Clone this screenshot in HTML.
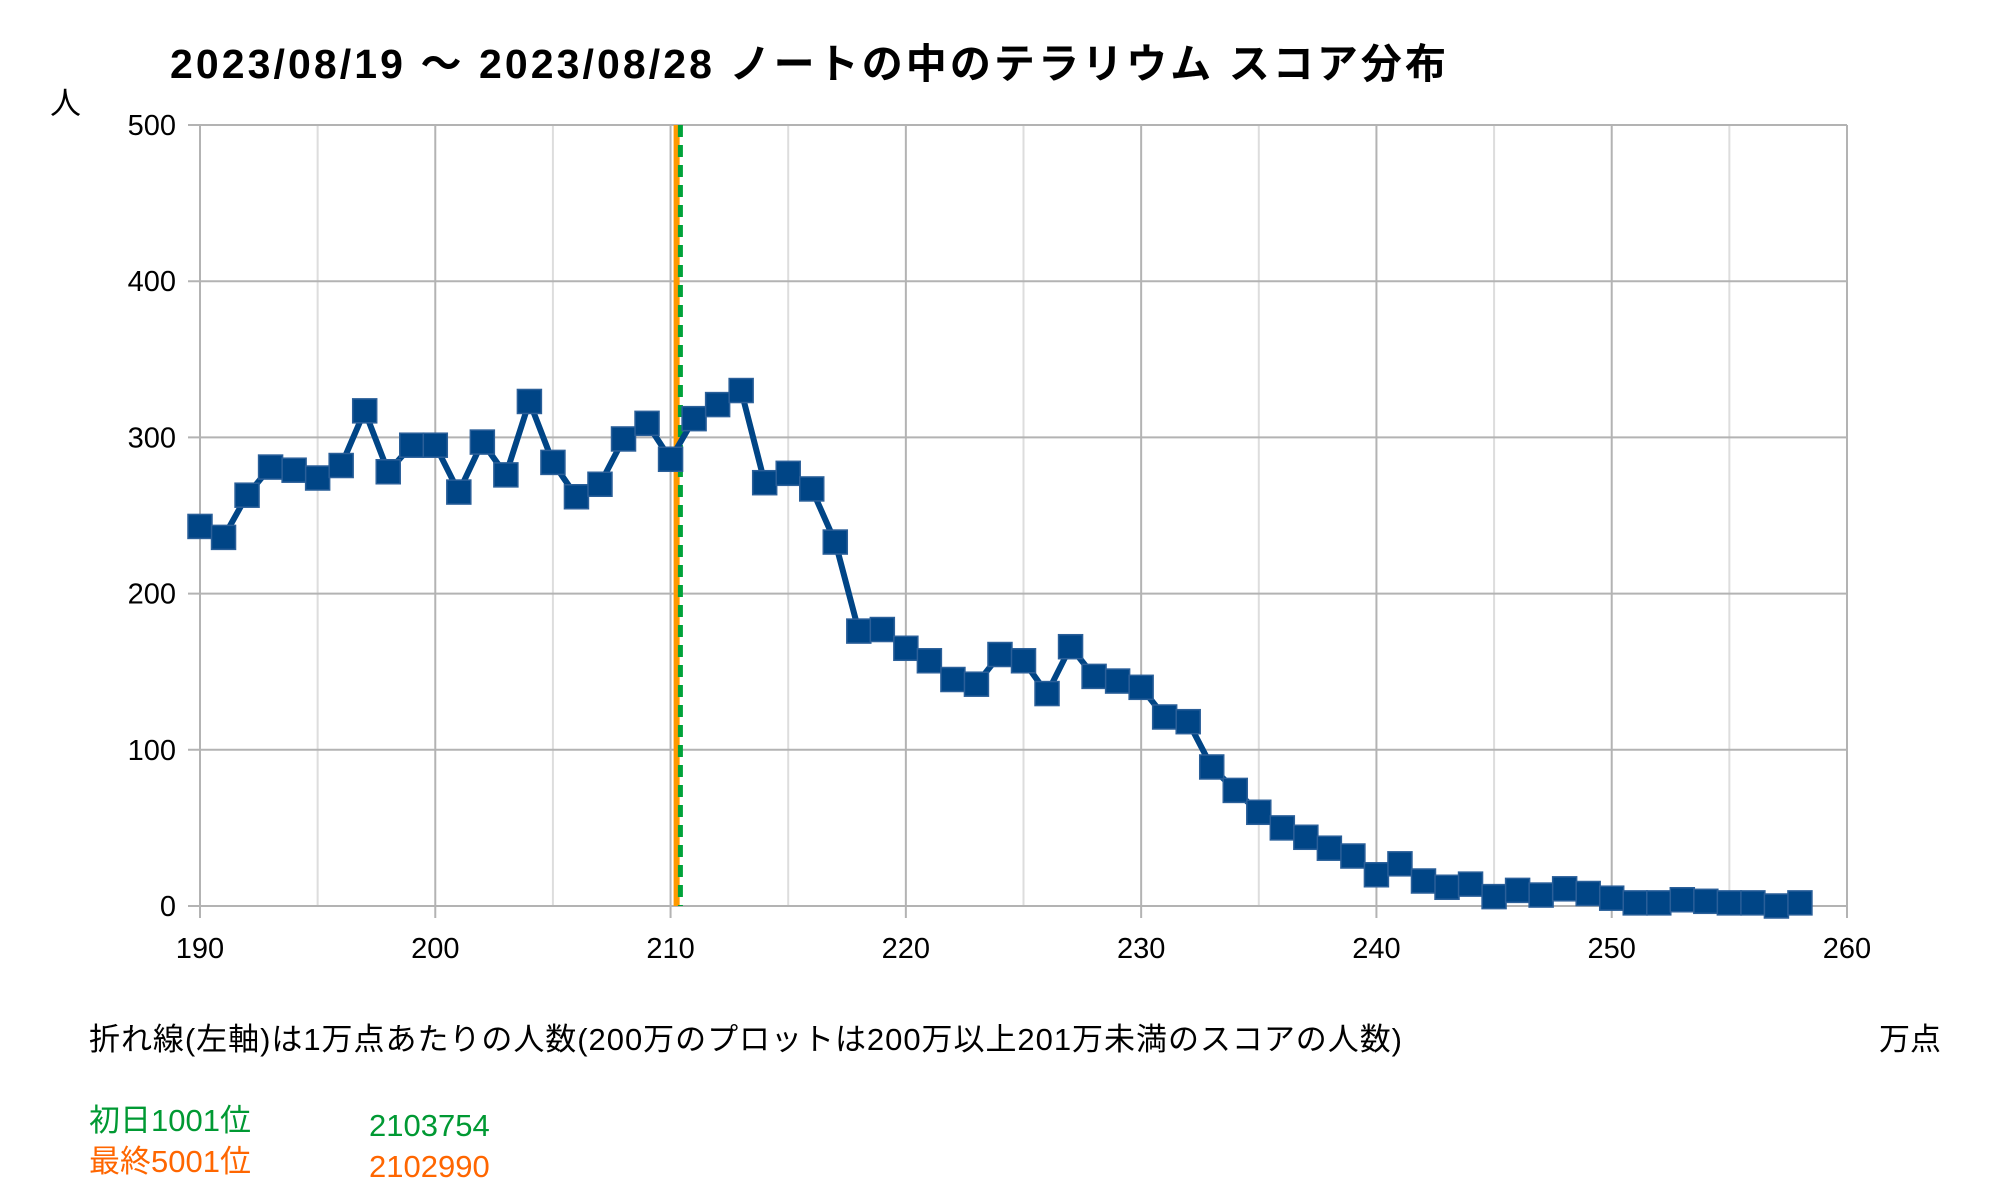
<!DOCTYPE html>
<html><head><meta charset="utf-8">
<style>
html,body{margin:0;padding:0;background:#fff;}
body{width:2000px;height:1200px;overflow:hidden;position:relative;font-family:"Liberation Sans","Noto Sans CJK JP",sans-serif;}
svg{position:absolute;left:0;top:0;}
</style></head>
<body>
<svg id="chart" width="2000" height="1200"></svg>
<script>
const categories=[190,191,192,193,194,195,196,197,198,199,200,201,202,203,204,205,206,207,208,209,210,211,212,213,214,215,216,217,218,219,220,221,222,223,224,225,226,227,228,229,230,231,232,233,234,235,236,237,238,239,240,241,242,243,244,245,246,247,248,249,250,251,252,253,254,255,256,257,258];
const counts=[243,236,263,281,279,274,282,317,278,295,295,265,297,276,323,284,262,270,299,309,286,312,321,330,271,277,267,233,176,177,165,157,145,142,161,157,136,166,147,144,140,121,118,89,74,60,50,44,37,32,20,27,16,12,14,6,10,7,11,8,5,2,2,4,3,2,2,0,2];
const xTicks=[190,200,210,220,230,240,250,260];
const yTicks=[0,100,200,300,400,500];
const firstDayLine=210.3754;
const finalLine=210.2990;

const NS="http://www.w3.org/2000/svg";
const svg=document.getElementById('chart');
const L=200,R=1847,T=125,B=906;
const X=v=>L+(v-190)/(260-190)*(R-L);
const Y=v=>B-v/500*(B-T);
function mk(tag,attrs,parent){const e=document.createElementNS(NS,tag);for(const k in attrs)e.setAttribute(k,attrs[k]);(parent||svg).appendChild(e);return e;}

for(let v=195;v<260;v+=10){
  const g=mk('line',{x1:X(v),x2:X(v),y1:T,y2:B,stroke:'#dddddd','stroke-width':2});
  
  
}
xTicks.forEach(v=>{
  const g=mk('line',{x1:X(v),x2:X(v),y1:T,y2:B+12,stroke:'#b3b3b3','stroke-width':2});
  
  
  const t=mk('text',{x:X(v),y:958,'text-anchor':'middle','font-size':29,fill:'#000'});
  t.textContent=v;
  
  
});
yTicks.forEach(v=>{
  const g=mk('line',{x1:L-12,x2:R,y1:Y(v),y2:Y(v),stroke:'#b3b3b3','stroke-width':2});
  
  
  const t=mk('text',{x:176,y:Y(v)+10,'text-anchor':'end','font-size':29,fill:'#000'});
  t.textContent=v;
  
  
});

const ol=mk('line',{x1:X(finalLine)-1,x2:X(finalLine)-1,y1:T,y2:B,stroke:'#ff9900','stroke-width':6});


const gl=mk('line',{x1:X(firstDayLine)+1,x2:X(firstDayLine)+1,y1:T,y2:B,stroke:'#00a33a','stroke-width':5,'stroke-dasharray':'12,8'});



const pts=categories.map((c,i)=>X(c)+','+Y(counts[i])).join(' ');
const pl=mk('polyline',{points:pts,fill:'none',stroke:'#004586','stroke-width':6,'stroke-linejoin':'round'});


categories.forEach((c,i)=>{
  const s=24;
  const r=mk('rect',{x:X(c)-s/2,y:Y(counts[i])-s/2,width:s,height:s,fill:'#004586',stroke:'#2a5f99','stroke-width':1.5});
  
  
});

function txt(x,y,s,size,fill,weight,name,anchor){
  const t=mk('text',{x:x,y:y,'font-size':size,fill:fill,'font-weight':weight||'normal','text-anchor':anchor||'start'});
  t.textContent=s;
  
  
  return t;
}
const title=txt(170,78,'2023/08/19 〜 2023/08/28 ノートの中のテラリウム スコア分布',41,'#000','bold','chart-title');
title.setAttribute('textLength','1276');
txt(50,114,'人',31,'#000','normal','y-axis-title');
const fn=txt(89,1050,'折れ線(左軸)は1万点あたりの人数(200万のプロットは200万以上201万未満のスコアの人数)',31,'#000','normal','footnote');
fn.setAttribute('textLength','1313');
txt(1879,1050,'万点',31,'#000','normal','x-axis-title');
txt(89,1131,'初日1001位',31,'#009933','normal','first-day-label');
txt(369,1136,'2103754',31,'#009933','normal','first-day-value');
txt(89,1172,'最終5001位',31,'#ff6600','normal','final-label');
txt(369,1177,'2102990',31,'#ff6600','normal','final-value');
</script>
</body></html>
